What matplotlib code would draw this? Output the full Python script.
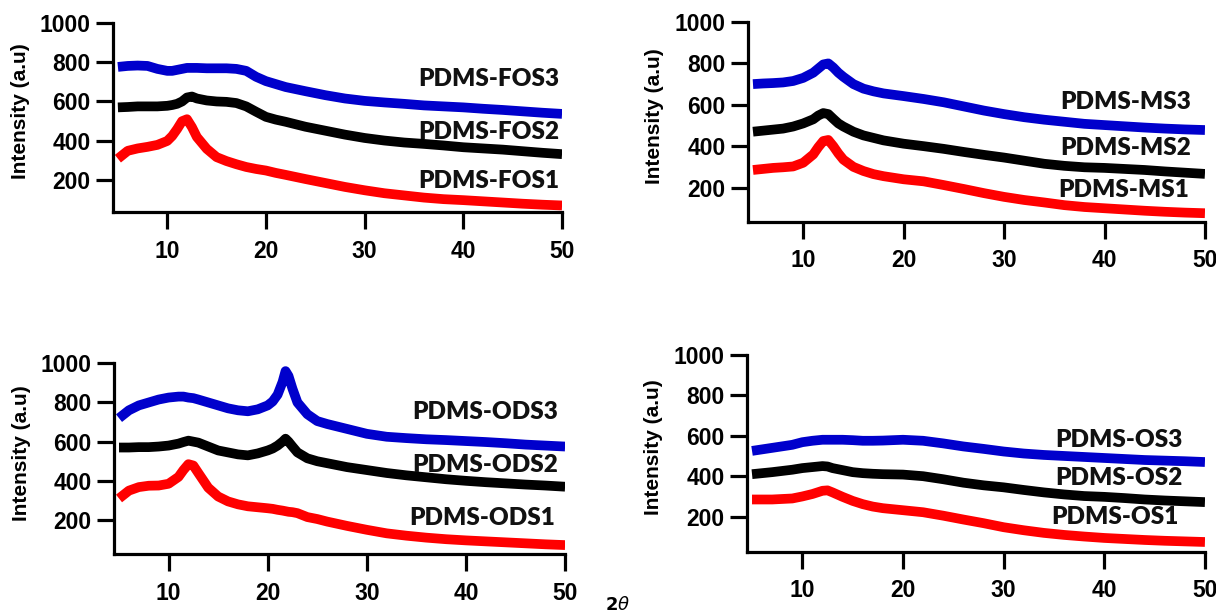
#!/usr/bin/env python3
"""XRD patterns of the four PDMS composite series, 2x2 panel layout."""

import matplotlib
matplotlib.use("Agg")
import matplotlib.pyplot as plt
from matplotlib.font_manager import FontProperties

# ---- data (2theta, intensity a.u.) ----
FOS_X = [5, 6, 7, 8, 9, 10, 10.5, 11, 11.5, 12, 12.5, 13,
         14, 15, 16, 17, 18, 19, 20, 21, 22,
         24, 26, 28, 30, 32, 34, 36, 38, 40, 42, 44, 46, 48, 50]
FOS3 = [775, 780, 782, 780, 765, 755, 755, 760, 765, 770, 770, 770,
        768, 768, 768, 765, 755, 725, 703, 688, 673,
        652, 632, 615, 603, 595, 588, 580, 575, 570, 563, 557, 550, 543, 537]
FOS2 = [570, 572, 575, 575, 575, 578, 582, 588, 600, 620, 625, 615,
        605, 600, 598, 592, 575, 548, 522, 508, 497,
        472, 452, 432, 415, 402, 392, 385, 377, 368, 362, 356, 348, 340, 333]
FOS1 = [310, 350, 362, 370, 380, 400, 425, 460, 500, 510, 470, 420,
        360, 318, 298, 282, 268, 258, 250, 238, 228,
        207, 187, 167, 150, 135, 124, 113, 105, 100, 94, 88, 82, 77, 73]

MS_X = [5, 6, 7, 8, 9, 10, 11, 11.5, 12, 12.5, 13, 13.5, 14, 15, 16, 17, 18,
        20, 22, 24, 26, 28, 30, 32, 34, 36, 38, 40, 42, 44, 46, 48, 50]
MS3 = [700, 703, 705, 708, 715, 730, 755, 775, 795, 800, 780, 755, 735, 700, 678, 665, 655,
       642, 628, 612, 592, 572, 555, 540, 528, 518, 508, 502, 496, 490, 485, 481, 478]
MS2 = [470, 475, 480, 485, 495, 510, 530, 548, 560, 555, 532, 510, 495, 470, 452, 440, 428,
       412, 400, 387, 372, 358, 345, 330, 315, 305, 298, 295, 290, 285, 278, 272, 266]
MS1 = [285, 290, 295, 298, 302, 320, 360, 395, 425, 430, 400, 365, 335, 300, 280, 265, 255,
       240, 230, 212, 193, 173, 155, 140, 128, 115, 106, 100, 94, 88, 83, 79, 76]

ODS_X = [5, 6, 7, 8, 9, 10, 11, 11.5, 12, 12.5, 13,
         14, 15, 16, 17, 18, 19,
         20, 20.5, 21, 21.5, 21.8, 22.1, 22.5, 23,
         24, 25, 26, 28,
         30, 32, 34, 36, 38, 40, 42, 44, 46, 48, 50]
ODS3 = [720, 760, 785, 800, 815, 825, 830, 830, 825, 822, 815,
        800, 785, 770, 760, 755, 765,
        785, 805, 840, 905, 960, 935, 870, 800,
        740, 705, 690, 665,
        640, 625, 618, 612, 608, 603, 598, 592, 585, 580, 575]
ODS2 = [570, 570, 572, 572, 575, 580, 590, 598, 605, 600, 595,
        575, 555, 545, 535, 530, 540,
        555, 565, 580, 600, 615, 600, 575, 545,
        515, 500, 490, 470,
        455, 440, 428, 418, 408, 400, 393, 387, 381, 376, 370]
ODS1 = [310, 350, 368, 375, 376, 385, 420, 455, 485, 478, 440,
        365, 320, 295, 280, 270, 265,
        260, 257, 252, 248, 245, 242, 240, 235,
        215, 205, 192, 170,
        150, 132, 120, 110, 102, 96, 91, 86, 81, 76, 72]

OS_X = [5, 7, 9, 10, 11, 12, 12.5, 13, 14, 15, 16, 17, 18, 20,
        22, 24, 26, 28, 30, 32, 34, 36, 38, 40, 42, 44, 46, 48, 50]
OS3 = [525, 540, 555, 568, 575, 580, 580, 580, 580, 578, 575, 575, 576, 580,
       575, 562, 547, 535, 522, 512, 505, 500, 495, 490, 485, 480, 477, 474, 470]
OS2 = [410, 420, 432, 440, 445, 450, 448, 440, 430, 420, 415, 412, 410, 408,
       400, 385, 368, 355, 345, 332, 320, 310, 302, 298, 292, 285, 280, 276, 272]
OS1 = [285, 285, 290, 300, 312, 328, 330, 320, 298, 278, 262, 250, 242, 232,
       222, 205, 186, 168, 148, 133, 120, 110, 102, 95, 90, 85, 81, 78, 75]

X_TICKS = [10, 20, 30, 40, 50]
Y_TICKS = [200, 400, 600, 800, 1000]
COLORS = ["#ff0000", "#000000", "#0000cc"]   # sample 1, 2, 3

# panel: (x, [s1, s2, s3], names, label anchors, axes rect, y min)
PANELS = [
    (FOS_X, [FOS1, FOS2, FOS3], ["PDMS-FOS1", "PDMS-FOS2", "PDMS-FOS3"],
     [(49.7, 199), (49.7, 444), (49.7, 712)], [0.0929, 0.6553, 0.3693, 0.3081], 40),
    (MS_X, [MS1, MS2, MS3], ["PDMS-MS1", "PDMS-MS2", "PDMS-MS3"],
     [(48.4, 189), (48.6, 390), (48.6, 615)], [0.6151, 0.6395, 0.3758, 0.3247], 35),
    (ODS_X, [ODS1, ODS2, ODS3], ["PDMS-ODS1", "PDMS-ODS2", "PDMS-ODS3"],
     [(49.0, 209), (49.3, 481), (49.3, 753)], [0.0938, 0.0987, 0.3709, 0.3106], 25),
    (OS_X, [OS1, OS2, OS3], ["PDMS-OS1", "PDMS-OS2", "PDMS-OS3"],
     [(47.4, 197), (47.8, 390), (47.8, 579)], [0.6143, 0.1029, 0.3766, 0.3203], 27),
]

TICK_FONT = FontProperties(family="Liberation Sans", weight="bold", size=16.5)
LABEL_FONT = {"family": "Lato", "weight": "heavy", "size": 17.5}


def draw_panel(fig, x, series, names, anchors, rect, ymin):
    ax = fig.add_axes(rect)
    for ys, color in zip(series, COLORS):
        ax.plot(x, ys, color=color, linewidth=7, solid_capstyle="butt",
                solid_joinstyle="round")
    for name, (tx, ty) in zip(names, anchors):
        ax.text(tx, ty, name, ha="right", va="center", color="#111111", **LABEL_FONT)

    ax.set_xlim(4.5, 50)
    ax.set_ylim(ymin, 1000)
    ax.set_xticks(X_TICKS)
    ax.set_yticks(Y_TICKS)
    for spine in ("top", "right"):
        ax.spines[spine].set_visible(False)
    for spine in ("left", "bottom"):
        ax.spines[spine].set_linewidth(2.3)
    ax.tick_params(direction="out", length=12, width=2.3, color="black")
    ax.tick_params(axis="x", pad=8)
    ax.tick_params(axis="y", pad=4)
    for lab in ax.get_xticklabels() + ax.get_yticklabels():
        lab.set_fontproperties(TICK_FONT)
    ax.text(-0.205, 0.53, "Intensity (a.u)", transform=ax.transAxes, rotation=90,
            ha="center", va="center", family="Liberation Sans", weight="bold", size=15)
    return ax


def main():
    fig = plt.figure(figsize=(12.16, 6.15), dpi=100)
    for x, series, names, anchors, rect, ymin in PANELS:
        draw_panel(fig, x, series, names, anchors, rect, ymin)
    fig.text(0.508, 0.002, r"$\mathbf{2}\mathit{\theta}$", ha="center", va="bottom", size=13)
    fig.savefig("out.png", dpi=100)
    plt.close(fig)


if __name__ == "__main__":
    main()
